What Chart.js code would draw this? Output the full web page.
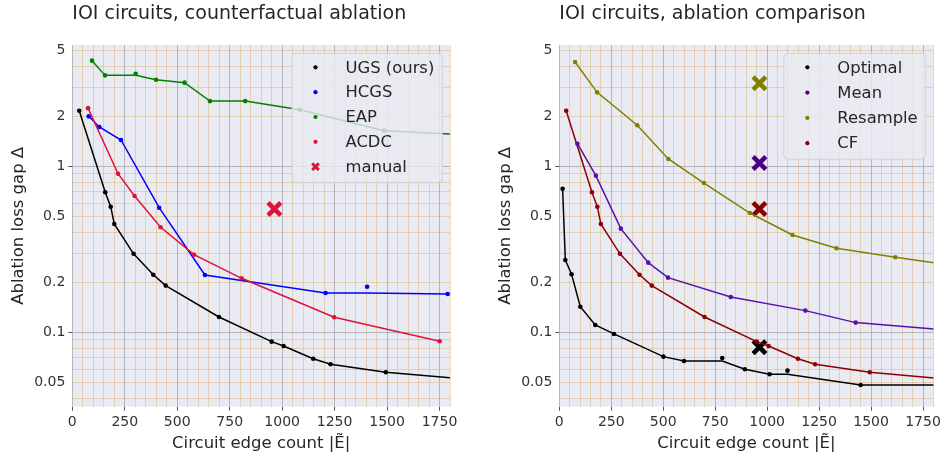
<!DOCTYPE html>
<html><head><meta charset="utf-8">
<script src="https://cdn.jsdelivr.net/npm/chart.js@4"></script>
<style>
html,body{margin:0;padding:0;background:#ffffff;}
body{width:947px;height:457px;overflow:hidden;position:relative;}
#c1{position:absolute;left:0;top:0;}
#c2{position:absolute;left:487px;top:0;}
</style></head><body>
<canvas id="c1" width="473" height="457"></canvas>
<canvas id="c2" width="460" height="457"></canvas>
<script>
// ---------------- data ----------------
const xTickVals = [0,50,100,150,200,250,300,350,400,450,500,550,600,650,700,750,800,850,900,950,1000,1050,1100,1150,1200,1250,1300,1350,1400,1450,1500,1550,1600,1650,1700,1750,1800];
const yTickVals = [0.04,0.05,0.06,0.07,0.08,0.09,0.1,0.2,0.3,0.4,0.5,0.6,0.7,0.8,0.9,1,2,3,4,5];
const yTickLabels = ['','0.05','','','','','0.1','0.2','','','0.5','','','','','1','2','','','5'];

// left: counterfactual ablation
const ugsX  = [33,157,183,200,292,386,445,699,950,1007,1148,1231,1494,2000];
const ugsY  = [2.16,0.697,0.571,0.449,0.297,0.222,0.191,0.1236,0.0878,0.0827,0.0693,0.0641,0.0574,0.0505];
const hcgsX = [78,129,232,414,632,1207,1405,1789];
const hcgsY = [2.0,1.725,1.44,0.563,0.2214,0.1725,0.188,0.170];
const eapX  = [94,156,302,399,535,656,824,1085,1486,1900];
const eapY  = [4.33,3.53,3.61,3.32,3.19,2.47,2.47,2.19,1.639,1.543];
const acdcX = [75,218,297,421,580,807,1248,1751];
const acdcY = [2.24,0.902,0.662,0.429,0.2934,0.2114,0.1231,0.0883];
const manualX = [963];
const manualY = [0.553];

// right: ablation comparison
const optimalX  = [16,29,59,101,173,263,501,600,784,893,1012,1098,1450,1950];
const optimalY  = [0.733,0.2726,0.2236,0.1426,0.1107,0.0977,0.0713,0.0671,0.070,0.0598,0.0558,0.0587,0.0481,0.049];
const meanX     = [87,176,296,428,523,825,1184,1426,1900];
const meanY     = [1.368,0.878,0.421,0.2626,0.2133,0.163,0.135,0.1143,0.1022];
const resampleX = [76,182,375,525,696,917,1122,1334,1617,1900];
const resampleY = [4.25,2.79,1.766,1.107,0.793,0.523,0.3855,0.3207,0.283,0.252];
const cfX = ugsX;
const cfY = ugsY;
const manualMethods = ['Optimal','Mean','Resample','CF'];
const manualCompX = [963,963,963,963];
const manualCompY = [0.0812,1.047,3.16,0.553];

// ---------------- helpers ----------------
const F = "'DejaVu Sans', sans-serif";
const TXT = '#262626';
const TICK = '#333333';
const MAJOR = 'rgba(150,150,160,0.65)';
const MINOR = 'rgba(215,172,100,0.42)';

function runMin(xs, ys){ let m = Infinity; return xs.map((x,i)=>{ m = Math.min(m, ys[i]); return {x:x, y:m}; }); }
function pts(xs, ys){ return xs.map((x,i)=>({x:x, y:ys[i]})); }
function series(xs, ys, color){
  return [
    {data: runMin(xs,ys), showLine:true, borderColor:color, backgroundColor:color, borderWidth:1.5, pointRadius:0, tension:0},
    {data: pts(xs,ys), showLine:false, borderColor:color, backgroundColor:color, pointRadius:2.3, borderWidth:0}
  ];
}
function bigX(x, y, color){
  return {data: pts(x,y), showLine:false, pointStyle:'crossRot', pointRadius:9, borderWidth:4.6, borderColor:color, backgroundColor:color};
}
function isMajorY(v){ const l = Math.log10(v); return Math.abs(l - Math.round(l)) < 1e-9; }

const overlay = {
  id: 'overlay',
  beforeDraw(chart){
    const ca = chart.chartArea, ctx = chart.ctx;
    ctx.save();
    ctx.fillStyle = '#EAEAF2';
    ctx.fillRect(ca.left, ca.top, ca.right-ca.left, ca.bottom-ca.top);
    ctx.restore();
  },
  afterDatasetsDraw(chart, args, o){
    const ctx = chart.ctx, ca = chart.chartArea;
    ctx.save();
    ctx.font = '16.4px ' + F;
    const maxW = Math.max.apply(null, o.items.map(it=>ctx.measureText(it.label).width));
    const w = 53.5 + maxW + 8, h = 30 + (o.items.length-1)*o.rowH;
    const x0 = ca.right - 7.7 - w, y0 = ca.top + 8.3;
    ctx.beginPath();
    ctx.roundRect(x0, y0, w, h, 4);
    ctx.fillStyle = 'rgba(234,234,242,0.8)';
    ctx.fill();
    ctx.strokeStyle = 'rgba(204,204,204,0.8)';
    ctx.lineWidth = 1;
    ctx.stroke();
    o.items.forEach((it,i)=>{
      const cy = y0 + 14 + i*o.rowH, mx = x0 + 23.5;
      if (it.x) {
        ctx.strokeStyle = it.color; ctx.lineWidth = 3;
        ctx.beginPath();
        ctx.moveTo(mx-3.3, cy-3.3); ctx.lineTo(mx+3.3, cy+3.3);
        ctx.moveTo(mx-3.3, cy+3.3); ctx.lineTo(mx+3.3, cy-3.3);
        ctx.stroke();
      } else {
        ctx.fillStyle = it.color;
        ctx.beginPath(); ctx.arc(mx, cy, 2.1, 0, Math.PI*2); ctx.fill();
      }
      ctx.fillStyle = TXT;
      ctx.textBaseline = 'middle';
      ctx.textAlign = 'left';
      ctx.fillText(it.label, x0 + 53.5, cy + 1);
    });
    ctx.restore();
  },
  afterDraw(chart, args, o){
    const ctx = chart.ctx, ca = chart.chartArea;
    ctx.save();
    ctx.font = '19px ' + F;
    ctx.fillStyle = TXT;
    ctx.textBaseline = 'alphabetic';
    ctx.textAlign = 'left';
    ctx.fillText(o.title, ca.left, 18.5);
    ctx.restore();
  }
};

function makeOptions(rightPad, title, items, rowH){
  return {
    responsive:false, animation:false, events:[],
    layout:{padding:{left:0, right:rightPad, top:45, bottom:0}},
    plugins:{legend:{display:false}, tooltip:{enabled:false}, overlay:{title:title, items:items, rowH:rowH}},
    scales:{
      x:{
        type:'linear', min:0, max:1800,
        afterBuildTicks:s=>{ s.ticks = xTickVals.map(v=>({value:v})); },
        afterFit:s=>{ s.height = 50.3; },
        ticks:{autoSkip:false, maxRotation:0, minRotation:0, padding:3, color:TICK, font:{family:F, size:14},
               callback:v=> (v % 250 === 0 && v <= 1750) ? String(v) : ''},
        grid:{color:c=> (c.tick && c.tick.value % 250 === 0) ? MAJOR : MINOR, lineWidth:1, tickLength:4,
              tickColor:c=> (c.tick && c.tick.value % 250 === 0) ? '#555' : 'rgba(0,0,0,0)'},
        border:{display:false},
        title:{display:true, text:'Circuit edge count |Ẽ|', color:TXT, font:{family:F, size:16.5}, padding:{top:0, bottom:3}}
      },
      y:{
        type:'logarithmic', min:0.0356, max:5.38,
        afterBuildTicks:s=>{ s.ticks = yTickVals.map(v=>({value:v})); },
        afterFit:s=>{ s.width = 72.3; },
        ticks:{autoSkip:false, padding:3, color:TICK, font:{family:F, size:14},
               callback:(v,i)=> yTickLabels[i]},
        grid:{color:c=> (c.tick && isMajorY(c.tick.value)) ? MAJOR : MINOR, lineWidth:1, tickLength:4,
              tickColor:c=> (c.tick && isMajorY(c.tick.value)) ? '#555' : 'rgba(0,0,0,0)'},
        border:{display:false},
        title:{display:true, text:'Ablation loss gap Δ', color:TXT, font:{family:F, size:16.5}, padding:{top:9, bottom:0}}
      }
    }
  };
}

// left chart
new Chart(document.getElementById('c1'), {
  type:'scatter',
  data:{datasets:[].concat(
    series(eapX, eapY, '#008000'),
    series(acdcX, acdcY, '#DC143C'),
    series(hcgsX, hcgsY, '#0000FF'),
    series(ugsX, ugsY, '#000000'),
    [bigX(manualX, manualY, '#DC143C')]
  )},
  options: makeOptions(23, 'IOI circuits, counterfactual ablation', [
    {label:'UGS (ours)', color:'#000000'},
    {label:'HCGS', color:'#0000FF'},
    {label:'EAP', color:'#008000'},
    {label:'ACDC', color:'#DC143C'},
    {label:'manual', color:'#DC143C', x:true}
  ], 24.85),
  plugins:[overlay]
});

// right chart
const methodColors = {'Optimal':'#000000','Mean':'#4B0082','Resample':'#808000','CF':'#8B0000'};
new Chart(document.getElementById('c2'), {
  type:'scatter',
  data:{datasets:[].concat(
    series(resampleX, resampleY, methodColors['Resample']),
    series(meanX, meanY, '#5A0FA8'),
    series(optimalX, optimalY, methodColors['Optimal']),
    series(cfX, cfY, methodColors['CF']),
    manualMethods.map((m,i)=>bigX([manualCompX[i]], [manualCompY[i]], methodColors[m]))
  )},
  options: makeOptions(10.3, 'IOI circuits, ablation comparison', [
    {label:'Optimal', color:'#000000'},
    {label:'Mean', color:'#4B0082'},
    {label:'Resample', color:'#808000'},
    {label:'CF', color:'#8B0000'}
  ], 25.3),
  plugins:[overlay]
});
</script>
</body></html>
